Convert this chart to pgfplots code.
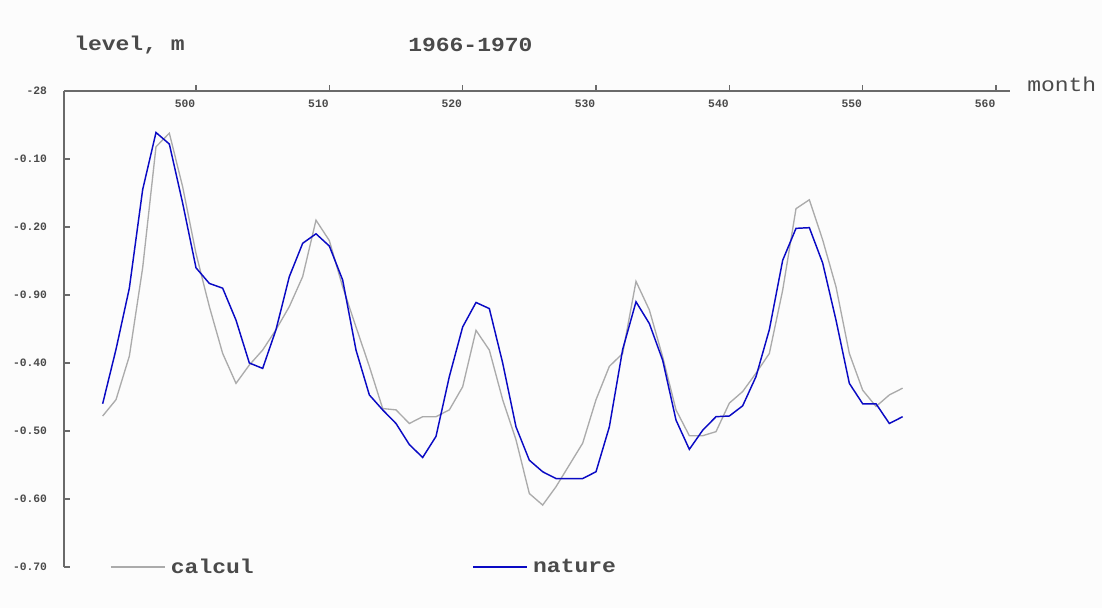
\documentclass[border=0pt]{standalone}
\usepackage{pgfplots}
\pgfplotsset{compat=1.18}
\usepackage{fontspec}
\setmainfont{Liberation Mono}
\newfontfamily\bigmono[FakeStretch=1.15]{Liberation Mono}
\definecolor{bg}{HTML}{FCFCFC}
\definecolor{axisgray}{HTML}{6A6A6A}
\definecolor{txtgray}{HTML}{4A4A4A}
\definecolor{calc}{HTML}{ABABAB}
\definecolor{nat}{HTML}{0A0AC4}
\pgfplotstableread{
m v
493 -0.46
494 -0.38
495 -0.29
496 -0.145
497 -0.061
498 -0.078
499 -0.165
500 -0.26
501 -0.283
502 -0.29
503 -0.337
504 -0.40
505 -0.408
506 -0.351
507 -0.273
508 -0.224
509 -0.21
510 -0.228
511 -0.278
512 -0.381
513 -0.447
514 -0.469
515 -0.489
516 -0.52
517 -0.539
518 -0.508
519 -0.42
520 -0.347
521 -0.311
522 -0.32
523 -0.40
524 -0.494
525 -0.543
526 -0.56
527 -0.57
528 -0.57
529 -0.57
530 -0.56
531 -0.494
532 -0.38
533 -0.31
534 -0.342
535 -0.396
536 -0.484
537 -0.527
538 -0.499
539 -0.479
540 -0.478
541 -0.463
542 -0.42
543 -0.351
544 -0.249
545 -0.202
546 -0.201
547 -0.253
548 -0.337
549 -0.43
550 -0.46
551 -0.46
552 -0.489
553 -0.479
}\nature
\pgfplotstableread{
m v
493 -0.478
494 -0.454
495 -0.39
496 -0.26
497 -0.082
498 -0.062
499 -0.141
500 -0.239
501 -0.317
502 -0.386
503 -0.43
504 -0.403
505 -0.381
506 -0.351
507 -0.317
508 -0.273
509 -0.19
510 -0.22
511 -0.288
512 -0.347
513 -0.405
514 -0.467
515 -0.469
516 -0.489
517 -0.479
518 -0.479
519 -0.469
520 -0.435
521 -0.352
522 -0.381
523 -0.454
524 -0.513
525 -0.592
526 -0.609
527 -0.582
528 -0.55
529 -0.518
530 -0.454
531 -0.405
532 -0.386
533 -0.28
534 -0.322
535 -0.391
536 -0.469
537 -0.507
538 -0.507
539 -0.501
540 -0.459
541 -0.442
542 -0.415
543 -0.386
544 -0.293
545 -0.173
546 -0.16
547 -0.219
548 -0.288
549 -0.386
550 -0.44
551 -0.464
552 -0.447
553 -0.437
}\calcul
\begin{document}
\begin{tikzpicture}
\fill[bg] (0pt,0pt) rectangle (826.5pt,-456pt);
\useasboundingbox (0pt,0pt) rectangle (826.5pt,-456pt);
\begin{axis}[
  at={(48pt,-68.25pt)}, anchor=north west,
  scale only axis, width=709.5pt, height=357pt,
  xmin=490.1, xmax=561.05, ymin=-0.7001, ymax=0,
  axis x line=top, axis y line=left,
  axis line style={-, axisgray, line width=1.3pt},
  tick style={axisgray, line width=1pt},
  tick align=outside, major tick length=4.5pt,
  every major y tick/.append style={xshift=4.5pt},
  xtick={500,510,520,530,540,550,560},
  xticklabels={500,510,520,530,540,550,560},
  ytick={0,-0.1,-0.2,-0.3,-0.4,-0.5,-0.6,-0.7},
  yticklabels={-28,-0.10,-0.20,-0.90,-0.40,-0.50,-0.60,-0.70},
  /pgf/number format/assume math mode=true,
  xticklabel style={font=\fontsize{8.5}{9}\selectfont\bfseries, text=txtgray, anchor=north east, xshift=3pt, yshift=-7.5pt},
  yticklabel style={font=\fontsize{8.5}{9}\selectfont\bfseries, text=txtgray, xshift=-4.7pt},
  legend columns=2,
  legend style={at={(axis description cs:0.0486,0)}, anchor=west, draw=none, fill=none, inner sep=0pt,
    font=\bigmono\fontsize{15}{15}\selectfont\bfseries, text=txtgray,
    nodes={inner xsep=4pt, inner ysep=0pt},
    /tikz/every even column/.append style={column sep=160pt}},
  legend image code/.code={\draw[#1] (0pt,0pt) -- (40.5pt,0pt);},
  clip=false,
]
\addplot[calc, line width=1pt] table[x=m, y=v] {\calcul};
\addlegendentry{calcul}
\addplot[nat, line width=1.1pt] table[x=m, y=v] {\nature};
\addlegendentry{nature}
\end{axis}
\node[anchor=west, text=txtgray, font=\bigmono\fontsize{15}{15}\selectfont\bfseries, inner sep=0pt] at (55.5pt,-33.75pt) {level, m};
\node[anchor=west, text=txtgray, font=\bigmono\fontsize{15}{15}\selectfont\bfseries, inner sep=0pt] at (306pt,-33.75pt) {1966-1970};
\node[anchor=west, text=txtgray, font=\bigmono\fontsize{15}{15}\selectfont, inner sep=0pt] at (770.25pt,-63pt) {month};
\end{tikzpicture}
\end{document}
